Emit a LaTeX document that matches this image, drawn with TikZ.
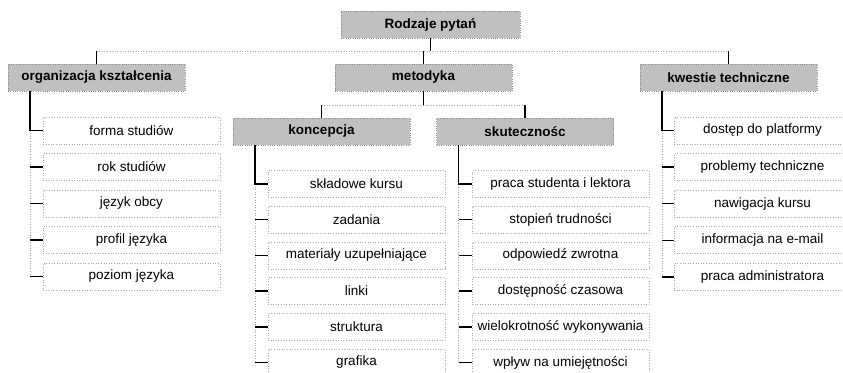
\documentclass[tikz,border=0pt]{standalone}
\usepackage{fontspec}
\setmainfont{Liberation Sans}
\definecolor{headfill}{HTML}{C0C0C0}
\definecolor{dotline}{HTML}{8C8C8C}
\definecolor{leafline}{HTML}{A8A8A8}
\tikzset{
  headbox/.style={draw=dotline, line width=0.8pt, dash pattern=on 0.7pt off 1.6pt,
    fill=headfill, minimum width=177pt, minimum height=27pt, inner sep=0pt,
    font=\bfseries\fontsize{13.5}{16}\selectfont},
  leafbox/.style={draw=leafline, line width=0.8pt, dash pattern=on 0.7pt off 1.9pt,
    fill=white, minimum width=177pt, minimum height=27pt, inner sep=0pt,
    font=\fontsize{13.5}{16}\selectfont},
  link/.style={line width=1.5pt, black},
  guide/.style={draw=leafline, line width=0.8pt, dash pattern=on 0.7pt off 1.9pt},
}
\begin{document}
\begin{tikzpicture}[x=1pt, y=-1pt]
\useasboundingbox (0,0) rectangle (843,372);
\clip (0,0) rectangle (843,372);

% bus levels
\coordinate (bus1) at (0,51);
\coordinate (bus2) at (0,105);

% header boxes
\node[headbox, minimum width=179pt] (root) at (430.5,24.5) {Rodzaje pytań};
\node[headbox] (org) at (96.5,77.5) {organizacja kształcenia};
\node[headbox] (met) at (423.5,77.5) {metodyka};
\node[headbox] (kwe) at (728.5,77.5) {kwestie techniczne};
\node[headbox] (kon) at (321.5,131.5) {koncepcja};
\node[headbox] (sku) at (525,131.5) {skutecznośc};

% top level connectors
\draw[link] (root.south) -- (root.south |- bus1);
\draw[guide] (org.north |- bus1) -- (kwe.north |- bus1);
\foreach \n in {org,met,kwe}
  \draw[link] (\n.north |- bus1) -- (\n.north);

% metodyka connectors
\draw[link] (met.south) -- (met.south |- bus2);
\draw[guide] (kon.north |- bus2) -- (sku.north |- bus2);
\foreach \n in {kon,sku}
  \draw[link] (\n.north |- bus2) -- (\n.north);

% leaf columns: parent, centre x, first centre y, step, labels
\foreach \p/\cx/\cy/\st/\labels in {
  org/131.5/130.5/36.5/{forma studiów,rok studiów,język obcy,profil języka,poziom języka},
  kon/356.5/184/35.7/{składowe kursu,zadania,materiały uzupełniające,linki,struktura,grafika},
  sku/560.5/184/35.7/{praca studenta i lektora,stopień trudności,odpowiedź zwrotna,dostępność czasowa,wielokrotność wykonywania,wpływ na umiejętności},
  kwe/762.5/130.5/36.6/{dostęp do platformy,problemy techniczne,nawigacja kursu,informacja na e-mail,praca administratora}}
{
  \coordinate (\p-rail) at ([xshift=22.5pt]\p.south west);
  \foreach \t [count=\i from 0] in \labels {
    \node[leafbox] (\p-\i) at (\cx,\cy+\i*\st) {\t};
    \xdef\last{\i}
  }
  \draw[guide] (\p-rail |- \p-0.west) -- (\p-rail |- \p-\last.west);
  \draw[link] (\p-rail) |- (\p-0.west);
  \foreach \i in {1,...,\last}
    \draw[link] (\p-rail |- \p-\i.west) -- (\p-\i.west);
}
\end{tikzpicture}
\end{document}
